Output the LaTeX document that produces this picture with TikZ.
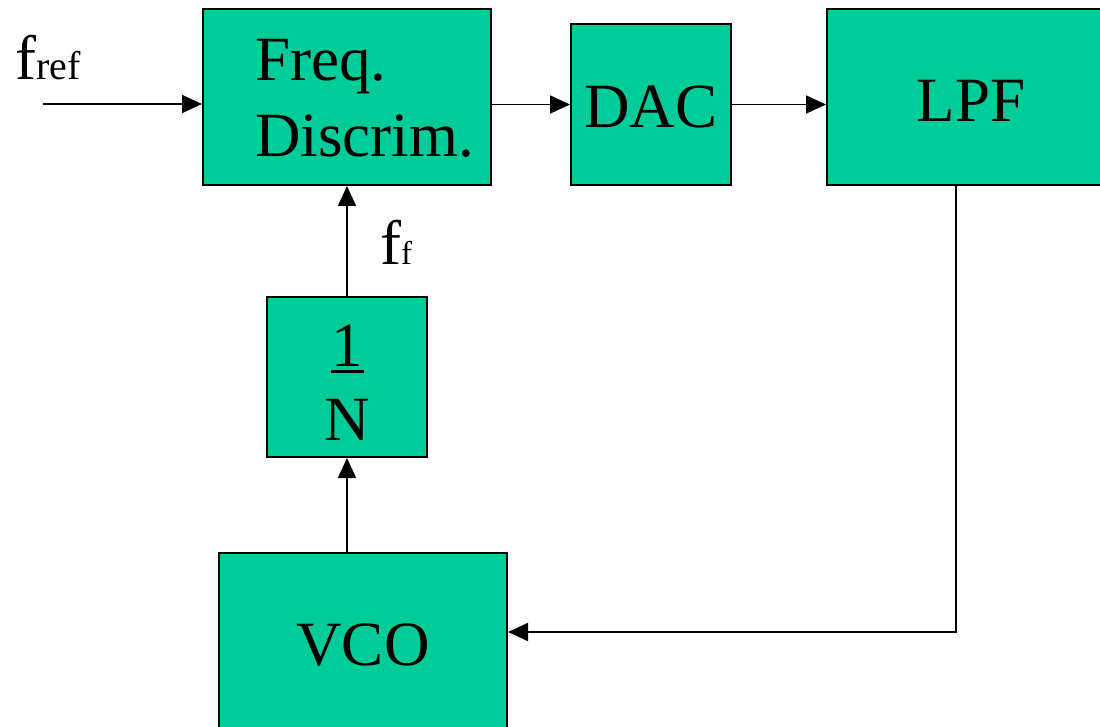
\documentclass[tikz,border=0pt]{standalone}
\usepackage{fontspec}
\setmainfont{Liberation Serif}
\usetikzlibrary{arrows.meta,calc}
\definecolor{boxgreen}{HTML}{00CC99}
\begin{document}
\begin{tikzpicture}[x=1pt,y=-1pt,
  blk/.style={draw=black,line width=2pt,fill=boxgreen,rectangle,inner sep=0pt},
  big/.style={font=\fontsize{63}{74}\selectfont,inner sep=0pt},
  conn/.style={line width=1.8pt,-{Triangle[length=20pt,width=18pt]}}]
\useasboundingbox (0,0) rectangle (1100,727);
\clip (0,0) rectangle (1100,727);
\node[blk,minimum width=288pt,minimum height=176pt] (fd) at (347,97) {};
\node[blk,minimum width=160pt,minimum height=161pt] (dac) at (651,104.5) {};
\node[blk,minimum width=288pt,minimum height=176pt] (lpf) at (971,97) {};
\node[blk,minimum width=160pt,minimum height=160pt] (div) at (347,377) {};
\node[blk,minimum width=288pt,minimum height=176pt] (vco) at (363,641) {};
\node[big,anchor=base west] (t1) at (255,81) {Freq.};
\node[big,anchor=base west] (t2) at (255,157) {Discrim.};
\node[big,anchor=base] (tdac) at (651,128) {DAC};
\node[big,anchor=base] (tlpf) at (971,122) {LPF};
\node[big,anchor=base] (tone) at (347,366) {1};
\draw[line width=3pt] (331,371) -- (364,371);
\node[big,anchor=base] (tn) at (347,440) {N};
\node[big,anchor=base] (tvco) at (363,665) {VCO};
\node[anchor=base west,inner sep=0pt] (fref) at (15,80) {\fontsize{63}{70}\selectfont f\fontsize{40}{44}\selectfont ref};
\node[anchor=base west,inner sep=0pt] (ff) at (380,265) {\fontsize{63}{70}\selectfont f\fontsize{33}{36}\selectfont f};
\coordinate (in) at (43,104);
\draw[conn] (in) -- (in -| fd.west);
\draw[conn] (fd.east |- dac.center) -- (dac.west);
\draw[conn] (dac.east) -- (dac.east -| lpf.west);
\draw[conn] ($(lpf.south)+(-15,0)$) |- (vco.east |- 0,632);
\draw[conn] (vco.north) ++(-16,0) coordinate (vn) -- (vn |- div.south);
\draw[conn] (div.north) -- (div.north |- fd.south);
\end{tikzpicture}
\end{document}
